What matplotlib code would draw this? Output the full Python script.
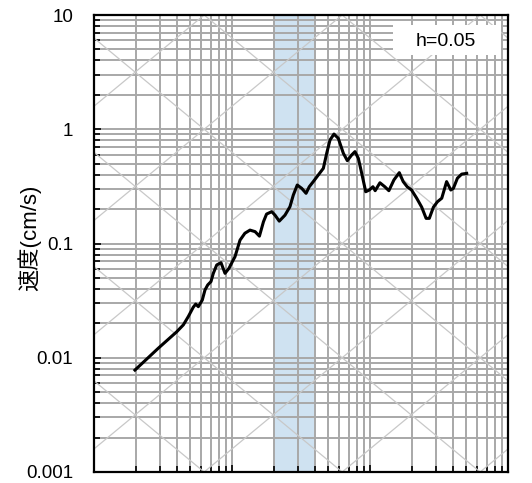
import numpy as np
import matplotlib
matplotlib.use('Agg')
import matplotlib.pyplot as plt
from matplotlib.patches import Rectangle
from matplotlib.ticker import LogLocator, NullFormatter, FixedFormatter

plt.rcParams['font.family'] = ['Liberation Sans', 'Noto Sans CJK JP', 'DejaVu Sans']

# velocity response spectrum, period (s) vs velocity (cm/s)
period = [0.0198, 0.0292, 0.0398, 0.0444, 0.0482, 0.0524, 0.0546, 0.0570, 0.0609,
          0.0637, 0.0667, 0.0704, 0.0732, 0.0775, 0.0832, 0.0890, 0.0951, 0.1021,
          0.1051, 0.1143, 0.124, 0.135, 0.147, 0.158, 0.169, 0.178, 0.194, 0.205,
          0.220, 0.242, 0.263, 0.278, 0.297, 0.320, 0.344, 0.363, 0.388, 0.422,
          0.459, 0.486, 0.513, 0.548, 0.589, 0.641, 0.685, 0.737, 0.778, 0.823,
          0.871, 0.931, 0.989, 1.05, 1.09, 1.18, 1.28, 1.37, 1.49, 1.63, 1.74,
          1.86, 2.00, 2.18, 2.37, 2.55, 2.69, 2.88, 3.08, 3.31, 3.59, 3.85, 4.02,
          4.30, 4.62, 5.02]
velocity = [0.0078, 0.0121, 0.0169, 0.0194, 0.0229, 0.0277, 0.0295, 0.0280, 0.0320,
            0.0392, 0.0434, 0.0464, 0.0548, 0.0649, 0.0679, 0.0548, 0.0607, 0.0718,
            0.0766, 0.107, 0.123, 0.131, 0.127, 0.116, 0.155, 0.181, 0.190, 0.177,
            0.157, 0.177, 0.210, 0.265, 0.325, 0.304, 0.275, 0.314, 0.348, 0.398,
            0.455, 0.619, 0.805, 0.908, 0.833, 0.616, 0.531, 0.596, 0.637, 0.557,
            0.411, 0.284, 0.294, 0.314, 0.290, 0.340, 0.314, 0.290, 0.360, 0.417,
            0.348, 0.314, 0.294, 0.249, 0.208, 0.166, 0.166, 0.208, 0.232, 0.249,
            0.348, 0.294, 0.304, 0.373, 0.405, 0.411]

band = [0.198, 0.39]
damping_label = 'h=0.05'
y_label = '速度(cm/s)'
y_ticks = [0.001, 0.01, 0.1, 1, 10]
y_tick_labels = ['0.001', '0.01', '0.1', '1', '10']
diag_powers = range(-7, 6)  # displacement (cm) and acceleration (cm/s2) = 10**k

fig = plt.figure(figsize=(5.32, 4.83), dpi=100)
ax = fig.add_axes([0.1767, 0.0228, 0.7782, 0.9461])
ax.set_xscale('log')
ax.set_yscale('log')
ax.set_xlim(0.01, 10)
ax.set_ylim(0.001, 10)

# shaded period band
ax.axvspan(band[0], band[1], color='#cfe2f1', lw=0, zorder=0.2)

# log grid
ax.set_axisbelow(True)
ax.xaxis.set_minor_locator(LogLocator(base=10, subs=np.arange(2, 10)))
ax.yaxis.set_minor_locator(LogLocator(base=10, subs=np.arange(2, 10)))
ax.grid(which='both', color='#a8a8a8', lw=1.4, zorder=0.5)

# tripartite diagonals
tt = np.array([0.01, 10.0])
for k in diag_powers:
    ax.plot(tt, 2 * np.pi * 10.0**k / tt, color='#c8c8c8', lw=0.9, zorder=0.6)
    ax.plot(tt, 10.0**k * tt / (2 * np.pi), color='#c8c8c8', lw=0.9, zorder=0.6)

ax.plot(period, velocity, color='black', lw=2.2, zorder=4)

# damping label box
ax.add_patch(Rectangle((0.722, 0.912), 0.261, 0.066, transform=ax.transAxes,
                       fc='white', ec='none', zorder=3))
ax.text(0.85, 0.942, damping_label, transform=ax.transAxes, fontsize=14,
        ha='center', va='center', zorder=5)

ax.yaxis.set_major_locator(matplotlib.ticker.FixedLocator(y_ticks))
ax.yaxis.set_major_formatter(FixedFormatter(y_tick_labels))
ax.yaxis.set_minor_formatter(NullFormatter())
ax.tick_params(which='both', direction='in', top=False, right=False,
               labelbottom=False, width=1.2, color='black')
ax.tick_params(which='major', length=5)
ax.tick_params(which='minor', length=4)
ax.tick_params(axis='y', labelsize=13.5, pad=15)

for s in ax.spines.values():
    s.set_linewidth(1.6)
    s.set_color('black')
    s.set_zorder(6)

fig.text(29 / 532, 1 - 238 / 483, y_label, rotation=90, ha='center', va='center',
         fontsize=16)

fig.savefig('out.png', dpi=100)
